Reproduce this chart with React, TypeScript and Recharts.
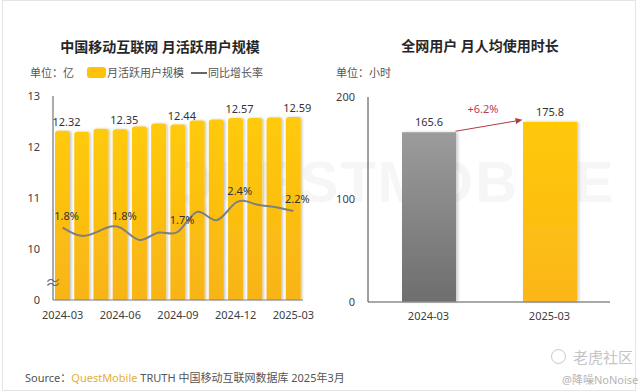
import React from 'react';
import { ComposedChart, BarChart, Bar, Line, XAxis, YAxis, LabelList, ReferenceLine } from 'recharts';

// left chart: monthly active users (亿) and YoY growth (%)
const months = [
  '2024-03', '2024-04', '2024-05', '2024-06', '2024-07', '2024-08', '2024-09',
  '2024-10', '2024-11', '2024-12', '2025-01', '2025-02', '2025-03',
];
const mauValues = [12.32, 12.3, 12.36, 12.35, 12.4, 12.46, 12.44, 12.52, 12.54, 12.57, 12.57, 12.58, 12.59];
const growthRates = [1.8, 1.6, 1.74, 1.8, 1.5, 1.68, 1.7, 2.18, 1.98, 2.4, 2.37, 2.3, 2.2];
const mauTicks = [0, 10, 11, 12, 13];
const AXIS_BREAK = 9; // axis is broken between 0 and 10

// right chart: monthly time spent per user (小时)
const durationCats = ['2024-03', '2025-03'];
const durationValues = [165.6, 175.8];
const durationTicks = [0, 100, 200];
const durationChange = '+6.2%';

const FONT = '"Noto Sans", "Noto Sans CJK SC", sans-serif';

const mauData = months.map((m, i) => ({
  month: m,
  bar: mauValues[i] - AXIS_BREAK,
  mau: mauValues[i],
  growth: growthRates[i],
}));

const durationData = durationCats.map((c, i) => ({ cat: c, value: durationValues[i] }));

const tickStyle = { fontSize: 11, fill: '#404040', fontFamily: FONT };

const BarLabel = (props: any) => {
  const { x, y, width, value, index } = props;
  if (index % 3 !== 0) return null;
  return (
    <text x={x + width / 2 + 4} y={y - 5} textAnchor="middle" fontSize={11} fill="#333" fontFamily={FONT}>
      {value.toFixed(2)}
    </text>
  );
};

const GrowthLabel = (props: any) => {
  const { x, y, value, index } = props;
  if (index % 3 !== 0) return null;
  return (
    <text x={x + 4} y={y - 8} textAnchor="middle" fontSize={11} fill="#333" fontFamily={FONT}>
      {`${value.toFixed(1)}%`}
    </text>
  );
};

const YellowBar = (props: any) => {
  const { x, y, width, height } = props;
  const r = 3;
  const d = `M${x},${y + height} L${x},${y + r} Q${x},${y} ${x + r},${y} L${x + width - r},${y} Q${x + width},${y} ${x + width},${y + r} L${x + width},${y + height} Z`;
  return <path d={d} fill="url(#mauGrad)" filter="url(#barShadow)" />;
};

const DurationLabel = (props: any) => {
  const { x, y, width, value } = props;
  return (
    <text x={x + width / 2} y={y - 6} textAnchor="middle" fontSize={11} fill="#333" fontFamily={FONT}>
      {value.toFixed(1)}
    </text>
  );
};

const ChangeArrow = (props: any) => {
  const { x1, y1, x2, y2 } = props;
  const half = 27;
  const sx = x1 + half;
  const sy = y1 - 1;
  const ex = x2 - half;
  const ey = y2 - 2;
  const ang = Math.atan2(ey - sy, ex - sx);
  const len = 7;
  const w = 3;
  const bx = ex - len * Math.cos(ang);
  const by = ey - len * Math.sin(ang);
  const p1 = `${ex},${ey}`;
  const p2 = `${bx - w * Math.sin(ang)},${by + w * Math.cos(ang)}`;
  const p3 = `${bx + w * Math.sin(ang)},${by - w * Math.cos(ang)}`;
  return (
    <g>
      <line x1={sx} y1={sy} x2={bx} y2={by} stroke="#b23a48" strokeWidth={1} />
      <polygon points={`${p1} ${p2} ${p3}`} fill="#b23a48" />
      <text x={(sx + ex) / 2 - 6} y={(sy + ey) / 2 - 13} textAnchor="middle" fontSize={11} fill="#c0394b" fontFamily={FONT}>
        {durationChange}
      </text>
    </g>
  );
};

const abs = (left: number, top: number, extra: React.CSSProperties = {}): React.CSSProperties => ({
  position: 'absolute',
  left,
  top,
  fontFamily: FONT,
  whiteSpace: 'nowrap',
  ...extra,
});

export default function App() {
  return (
    <div style={{ position: 'fixed', left: 0, top: 0, width: 640, height: 392, background: '#fff', overflow: 'hidden' }}>
      <div style={{ position: 'absolute', left: 2, top: 0, width: 632, height: 389, border: '1px solid #e4e4e4' }} />
      <div style={abs(168, 148, { fontSize: 58, fontWeight: 700, color: '#f6f6f6', letterSpacing: 2, fontFamily: '"Liberation Sans", sans-serif' })}>
        QUESTMOBILE
      </div>

      {/* left chart */}
      <div style={abs(0, 36, { width: 320, textAlign: 'center', fontSize: 14, fontWeight: 600, color: '#262626' })}>
        中国移动互联网 月活跃用户规模
      </div>
      <div style={abs(30, 64, { fontSize: 11, color: '#555' })}>单位：亿</div>
      <div style={abs(87, 67, { width: 19, height: 11, borderRadius: 3, background: '#ffc20a' })} />
      <div style={abs(107, 64, { fontSize: 11, color: '#555' })}>月活跃用户规模</div>
      <div style={abs(191, 72, { width: 16, height: 2, background: '#666' })} />
      <div style={abs(208, 64, { fontSize: 11, color: '#555' })}>同比增长率</div>

      <div style={abs(0, 0)}>
        <ComposedChart width={320} height={392} data={mauData} margin={{ top: 96, right: 17, bottom: 62, left: 23 }}>
          <defs>
            <linearGradient id="mauGrad" x1="0" y1="0" x2="0" y2="1">
              <stop offset="0%" stopColor="#ffca08" />
              <stop offset="100%" stopColor="#f8b418" />
            </linearGradient>
            <filter id="barShadow" x="-20%" y="-5%" width="150%" height="110%">
              <feDropShadow dx="1.5" dy="0" stdDeviation="1" floodColor="#000" floodOpacity="0.22" />
            </filter>
          </defs>
          <XAxis
            dataKey="month"
            interval={2}
            tickLine={false}
            tickSize={0}
            tickMargin={11}
            height={30}
            axisLine={{ stroke: '#7f7f7f' }}
            tick={tickStyle}
          />
          <YAxis
            yAxisId="left"
            width={30}
            domain={[0, 4]}
            ticks={mauTicks.map((t) => (t === 0 ? 0 : t - AXIS_BREAK))}
            tickFormatter={(v: number) => (v === 0 ? '0' : String(v + AXIS_BREAK))}
            tickLine={false}
            tickSize={0}
            tickMargin={13}
            axisLine={{ stroke: '#595959' }}
            tick={tickStyle}
          />
          <YAxis yAxisId="right" orientation="right" hide domain={[0.05, 4.98]} ticks={[0.05, 4.98]} />
          <Bar yAxisId="left" dataKey="bar" barSize={15} shape={YellowBar} isAnimationActive={false}>
            <LabelList dataKey="mau" content={BarLabel} />
          </Bar>
          <Line
            yAxisId="right"
            type="natural"
            dataKey="growth"
            stroke="#7f7f7f"
            strokeWidth={2}
            dot={false}
            isAnimationActive={false}
          >
            <LabelList dataKey="growth" content={GrowthLabel} />
          </Line>
        </ComposedChart>
      </div>
      <div style={abs(45, 274, { fontSize: 16, color: '#666', lineHeight: '16px' })}>≈</div>

      {/* right chart */}
      <div style={abs(320, 35, { width: 320, textAlign: 'center', fontSize: 14, fontWeight: 600, color: '#262626' })}>
        全网用户 月人均使用时长
      </div>
      <div style={abs(336, 64, { fontSize: 11, color: '#555' })}>单位：小时</div>

      <div style={abs(320, 0)}>
        <BarChart width={320} height={392} data={durationData} margin={{ top: 97, right: 30, bottom: 60, left: 18 }}>
          <defs>
            <linearGradient id="grayGrad" x1="0" y1="0" x2="0" y2="1">
              <stop offset="0%" stopColor="#9c9c9c" />
              <stop offset="100%" stopColor="#6e6e6e" />
            </linearGradient>
            <linearGradient id="goldGrad" x1="0" y1="0" x2="0" y2="1">
              <stop offset="0%" stopColor="#ffc906" />
              <stop offset="100%" stopColor="#fbb61a" />
            </linearGradient>
            <filter id="durShadow" x="-20%" y="-5%" width="150%" height="110%">
              <feDropShadow dx="2" dy="0" stdDeviation="1.5" floodColor="#000" floodOpacity="0.2" />
            </filter>
          </defs>
          <XAxis
            dataKey="cat"
            tickLine={false}
            tickSize={0}
            tickMargin={10}
            height={30}
            axisLine={{ stroke: '#8c8c8c', strokeWidth: 1.5 }}
            tick={tickStyle}
          />
          <YAxis
            width={30}
            domain={[0, 200]}
            ticks={durationTicks}
            tickLine={false}
            tickSize={0}
            tickMargin={13}
            axisLine={{ stroke: '#404040' }}
            tick={tickStyle}
          />
          <Bar
            dataKey="value"
            barSize={54}
            isAnimationActive={false}
            shape={(p: any) => (
              <rect
                x={p.x}
                y={p.y}
                width={p.width}
                height={p.height}
                fill={p.index === 0 ? 'url(#grayGrad)' : 'url(#goldGrad)'}
                filter="url(#durShadow)"
              />
            )}
          >
            <LabelList dataKey="value" content={DurationLabel} />
          </Bar>
          <ReferenceLine
            segment={[
              { x: durationCats[0], y: durationValues[0] },
              { x: durationCats[1], y: durationValues[1] },
            ]}
            shape={ChangeArrow}
          />
        </BarChart>
      </div>

      {/* footer */}
      <div style={abs(25, 369, { fontSize: 11, color: '#555' })}>
        Source：<span style={{ color: '#e3ae3c' }}>QuestMobile</span> TRUTH 中国移动互联网数据库 2025年3月
      </div>
      <div style={abs(551, 349, { width: 13, height: 13, borderRadius: '50%', border: '1.5px solid #c8c8c8' })} />
      <div style={abs(573, 346, { fontSize: 15, color: '#c4c4c4' })}>老虎社区</div>
      <div style={abs(562, 371, { fontSize: 11, color: '#b4b4b4' })}>@降噪NoNoise</div>
    </div>
  );
}
